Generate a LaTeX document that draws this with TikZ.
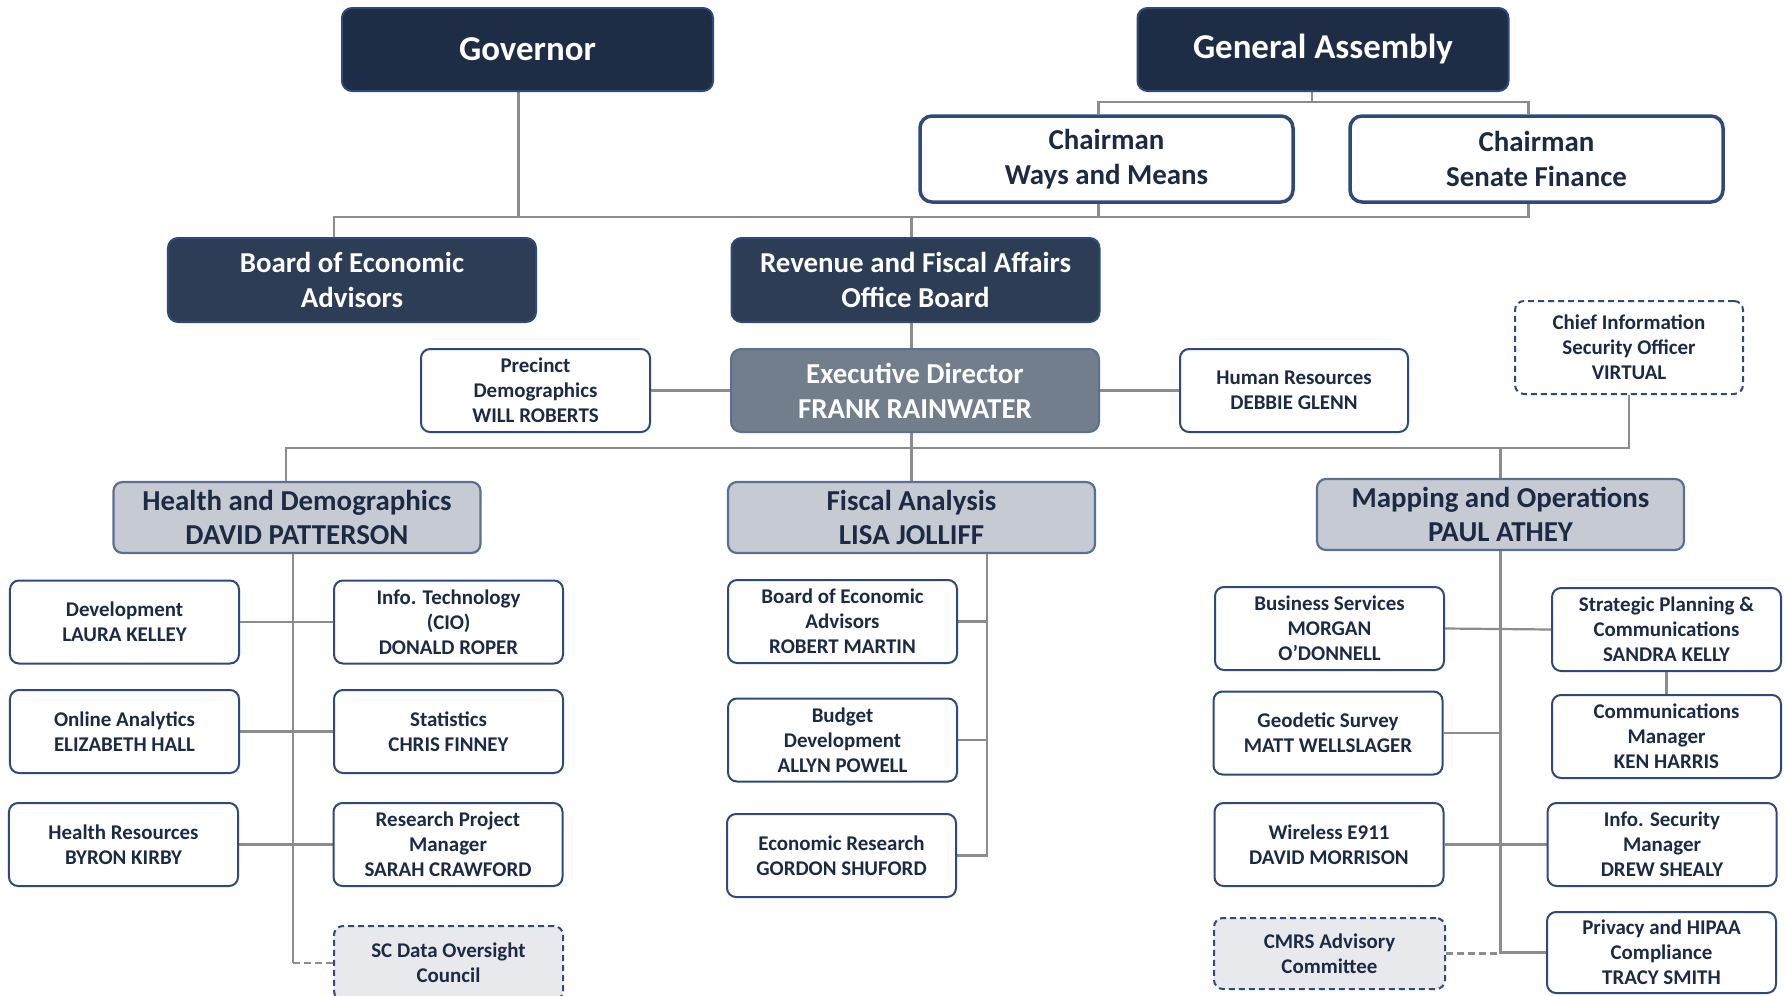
\documentclass[tikz,border=0pt]{standalone}
\usepackage{fontspec}
\setmainfont{Carlito}
\usetikzlibrary{calc}
\definecolor{navy}{HTML}{1E2C45}
\definecolor{navyb}{HTML}{2D3D55}
\definecolor{edfill}{HTML}{737E8C}
\definecolor{divfill}{HTML}{C6CAD2}
\definecolor{dashfill}{HTML}{E7E9EC}
\definecolor{bordb}{HTML}{2F4A78}
\definecolor{bordl}{HTML}{5A6F92}
\definecolor{txt}{HTML}{1C2A44}
\definecolor{conn}{HTML}{8C8C8C}
\pgfdeclarelayer{back}
\pgfdeclarelayer{lines}
\pgfsetlayers{back,lines,main}
\begin{document}
\begin{tikzpicture}[x=1bp,y=-1bp,
  box/.style={rounded corners=9bp, align=center, inner sep=0pt, text=txt,
    font=\fontsize{21}{25}\selectfont\bfseries},
  small/.style={box, draw=bordb, line width=2bp, fill=white,
    minimum width=229bp, minimum height=83bp},
  dsmall/.style={small, fill=dashfill, dash pattern=on 6bp off 4bp},
  div/.style={box, draw=bordl, line width=2.2bp, fill=divfill,
    minimum width=367bp, minimum height=71bp,
    font=\fontsize{29}{35}\selectfont\bfseries},
  topbox/.style={box, rounded corners=10bp, fill=navy, draw=bordb, line width=2bp,
    text=white, minimum width=371bp, minimum height=83bp,
    font=\fontsize{35}{40}\selectfont\bfseries},
  lvl/.style={topbox, fill=navyb, minimum width=368bp, minimum height=84bp,
    font=\fontsize{29}{35}\selectfont\bfseries},
  edbox/.style={lvl, fill=edfill, draw=bordl, minimum height=83bp},
  chair/.style={box, fill=white, draw=bordb, line width=3.5bp,
    minimum width=373bp, minimum height=86bp, rounded corners=12bp,
    font=\fontsize{29}{35}\selectfont\bfseries},
  conline/.style={draw=conn, line width=2.2bp},
  dconline/.style={conline, dash pattern=on 7bp off 4bp}
]
\useasboundingbox (0,0) rectangle (1785,995);
\begin{pgfonlayer}{back}
  \fill[white] (0,0) rectangle (1785,995);
\end{pgfonlayer}

% top level
\node[topbox] (gov) at (527.5,49.5) {Governor};
\node[topbox] (ga) at (1323,49.5) {General Assembly};
\node[chair] (wm) at (1106.5,159) {Chairman\\Ways and Means};
\node[chair] (sf) at (1536.5,159) {Chairman\\Senate Finance};
\node[lvl] (bea) at (352,280) {Board of Economic\\Advisors};
\node[lvl] (rfa) at (915.5,280) {Revenue and Fiscal Affairs\\Office Board};

% executive row
\node[small] (prec) at (535.5,390.5) {Precinct\\Demographics\\WILL ROBERTS};
\node[edbox] (ed) at (915,390.5) {Executive Director\\FRANK RAINWATER};
\node[small, minimum width=228bp] (hr) at (1294,390.5) {Human Resources\\DEBBIE GLENN};
\node[small, dash pattern=on 6bp off 4bp, minimum width=228bp, minimum height=93bp] (ciso) at (1629,347.5) {Chief Information\\Security Officer\\VIRTUAL};

% divisions
\node[div] (hd) at (297,517.5) {Health and Demographics\\DAVID PATTERSON};
\node[div] (fa) at (911.5,517.5) {Fiscal Analysis\\LISA JOLLIFF};
\node[div] (mo) at (1500.5,514.5) {Mapping and Operations\\PAUL ATHEY};

% health and demographics
\node[small] (dev) at (124.5,622) {Development\\LAURA KELLEY};
\node[small] (it) at (448.5,622) {Info. Technology\\(CIO)\\DONALD ROPER};
\node[small] (oa) at (124.5,731.5) {Online Analytics\\ELIZABETH HALL};
\node[small] (st) at (448.5,731.5) {Statistics\\CHRIS FINNEY};
\node[small] (hres) at (123.5,844.5) {Health Resources\\BYRON KIRBY};
\node[small] (rpm) at (448,844.5) {Research Project\\Manager\\SARAH CRAWFORD};
\node[dsmall, minimum height=74bp] (sc) at (448.5,963) {SC Data Oversight\\Council};

% fiscal analysis
\node[small] (bea2) at (842.5,621.5) {Board of Economic\\Advisors\\ROBERT MARTIN};
\node[small] (bud) at (842.5,740) {Budget\\Development\\ALLYN POWELL};
\node[small] (er) at (841.5,855.5) {Economic Research\\GORDON SHUFORD};

% mapping and operations
\node[small] (bs) at (1329.5,628.5) {Business Services\\MORGAN\\O’DONNELL};
\node[small] (sp) at (1666.5,629.5) {Strategic Planning \&\\Communications\\SANDRA KELLY};
\node[small] (cm) at (1666.5,736.5) {Communications\\Manager\\KEN HARRIS};
\node[small] (gs) at (1328,733) {Geodetic Survey\\MATT WELLSLAGER};
\node[small] (wl) at (1329,844.5) {Wireless E911\\DAVID MORRISON};
\node[small] (is) at (1662,844.5) {Info. Security\\Manager\\DREW SHEALY};
\node[dsmall, minimum width=231bp, minimum height=71bp] (cmrs) at (1329.5,953.5) {CMRS Advisory\\Committee};
\node[small, minimum height=81bp] (priv) at (1661.5,952.5) {Privacy and HIPAA\\Compliance\\TRACY SMITH};

\coordinate (gy) at (0,102);
\coordinate (hy) at (0,217);
\coordinate (by) at (0,448);
\coordinate (fasp) at ($(fa.south east)+(-109,0)$);
\coordinate (gap) at ($(ga.south)+(-11,0)$);
\coordinate (govp) at ($(gov.south)+(-9,0)$);
\coordinate (beap) at ($(bea.north)+(-18,0)$);
\coordinate (wmt) at ($(wm.north)+(-8,0)$);
\coordinate (wmb) at ($(wm.south)+(-8,0)$);
\coordinate (sft) at ($(sf.north)+(-8,0)$);
\coordinate (sfb) at ($(sf.south)+(-8,0)$);
\coordinate (rfat) at ($(rfa.north)+(-4,0)$);
\coordinate (rfab) at ($(rfa.south)+(-4,0)$);
\coordinate (hdt) at ($(hd.north)+(-11,0)$);
\coordinate (hdb) at ($(hd.south)+(-4,0)$);

\begin{pgfonlayer}{lines}
  % general assembly to chairmen
  \draw[conline] (gap) -- (gap |- gy);
  \draw[conline] (wmt) -- (wmt |- gy) -| (sft);
  % governor / chairmen to boards
  \draw[conline] (govp) -- (govp |- hy);
  \draw[conline] (beap) -- (beap |- hy) -| (sfb);
  \draw[conline] (wmb) -- (wmb |- hy);
  \draw[conline] (rfat) -- (rfat |- hy);
  % board to executive director
  \draw[conline] (rfab) -- (rfab |- ed.north);
  \draw[conline] (prec.east) -- (ed.west);
  \draw[conline] (ed.east) -- (hr.west);
  % branches
  \draw[conline] (hdt) -- (hdt |- by) -| (ciso.south);
  \draw[conline] (rfab |- ed.south) -- (rfab |- fa.north);
  \draw[conline] (mo.north) -- (mo.north |- by);
  % health and demographics
  \draw[conline] (hdb) -- (hdb |- sc.west);
  \draw[dconline] (hdb |- sc.west) -- (sc.west);
  \draw[conline] (dev.east) -- (it.west);
  \draw[conline] (oa.east) -- (st.west);
  \draw[conline] (hres.east) -- (rpm.west);
  % fiscal analysis
  \draw[conline] (fasp) -- (fasp |- er.east) -- (er.east);
  \draw[conline] (bea2.east) -- (bea2.east -| fasp);
  \draw[conline] (bud.east) -- (bud.east -| fasp);
  % mapping and operations
  \draw[conline] (mo.south) -- (mo.south |- priv.west) -- (priv.west);
  \draw[dconline] (cmrs.east) -- (cmrs.east -| mo.south);
  \draw[conline] (bs.east) -- (sp.west);
  \draw[conline] (gs.east) -- (gs.east -| mo.south);
  \draw[conline] (wl.east) -- (is.west);
  \draw[conline] (sp.south) -- (cm.north);
\end{pgfonlayer}
\end{tikzpicture}
\end{document}
